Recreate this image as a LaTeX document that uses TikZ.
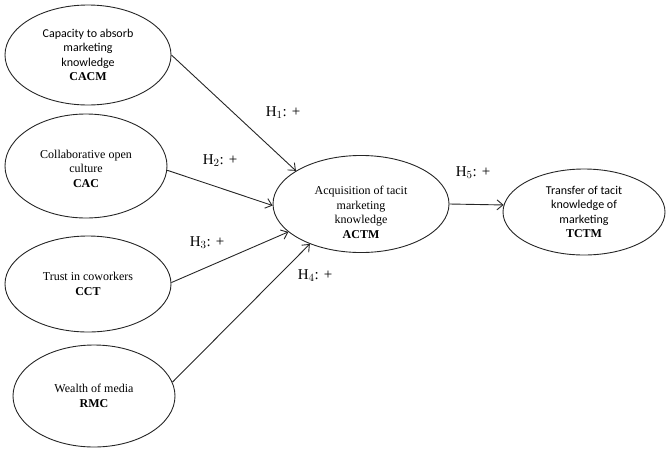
\documentclass[tikz,border=0pt]{standalone}
\usepackage{fontspec}
\setmainfont{Liberation Serif}
\newfontfamily\calfont{Carlito}
\usetikzlibrary{shapes.geometric,arrows.meta}
\begin{document}
\begin{tikzpicture}[x=1pt,y=-1pt,
  construct/.style={ellipse,draw=black!85,line width=0.9pt,inner sep=0pt,align=center,
    font=\fontsize{12}{14.5}\selectfont},
  link/.style={draw=black!85,line width=0.9pt,-{Straight Barb[length=6pt,width=10pt]}},
  hyp/.style={font=\fontsize{15}{17}\selectfont,inner sep=0pt}]
\useasboundingbox (0,0) rectangle (671,450);
\node[construct,minimum width=166pt,minimum height=100pt] (cacm) at (88,55)
  {{\calfont Capacity to absorb}\\{\calfont marketing}\\{\calfont knowledge}\\\textbf{CACM}};
\node[construct,minimum width=162pt,minimum height=104pt] (cac) at (86,166)
  {\rule{0pt}{14pt}Collaborative open\\culture\\\textbf{CAC}};
\node[construct,minimum width=166pt,minimum height=96pt] (cct) at (88,284)
  {Trust in coworkers\\\textbf{CCT}};
\node[construct,minimum width=162pt,minimum height=102pt] (rmc) at (94,396)
  {Wealth of media\\\textbf{RMC}};
\node[construct,minimum width=176pt,minimum height=96pt] (actm) at (361,204)
  {\rule{0pt}{25pt}Acquisition of tacit\\marketing\\knowledge\\\textbf{ACTM}};
\node[construct,minimum width=162pt,minimum height=86pt] (tctm) at (584,212)
  {{\calfont Transfer of tacit}\\{\calfont knowledge of}\\{\calfont marketing}\\\textbf{TCTM}};
\draw[link] (cacm.0) -- (actm.153.4);
\draw[link] (cac.-3) -- (actm.181);
\draw[link] (cct.1) -- (actm.201.7);
\draw[link] (rmc.10) -- (actm.218.5);
\draw[link] (actm.-0.8) -- (tctm.175);
\node[hyp] (h1) at (283,113) {H$_1$: +};
\node[hyp] (h2) at (220,161) {H$_2$: +};
\node[hyp] (h3) at (207,243) {H$_3$: +};
\node[hyp] (h4) at (315,276) {H$_4$: +};
\node[hyp] (h5) at (473,173) {H$_5$: +};
\end{tikzpicture}
\end{document}
